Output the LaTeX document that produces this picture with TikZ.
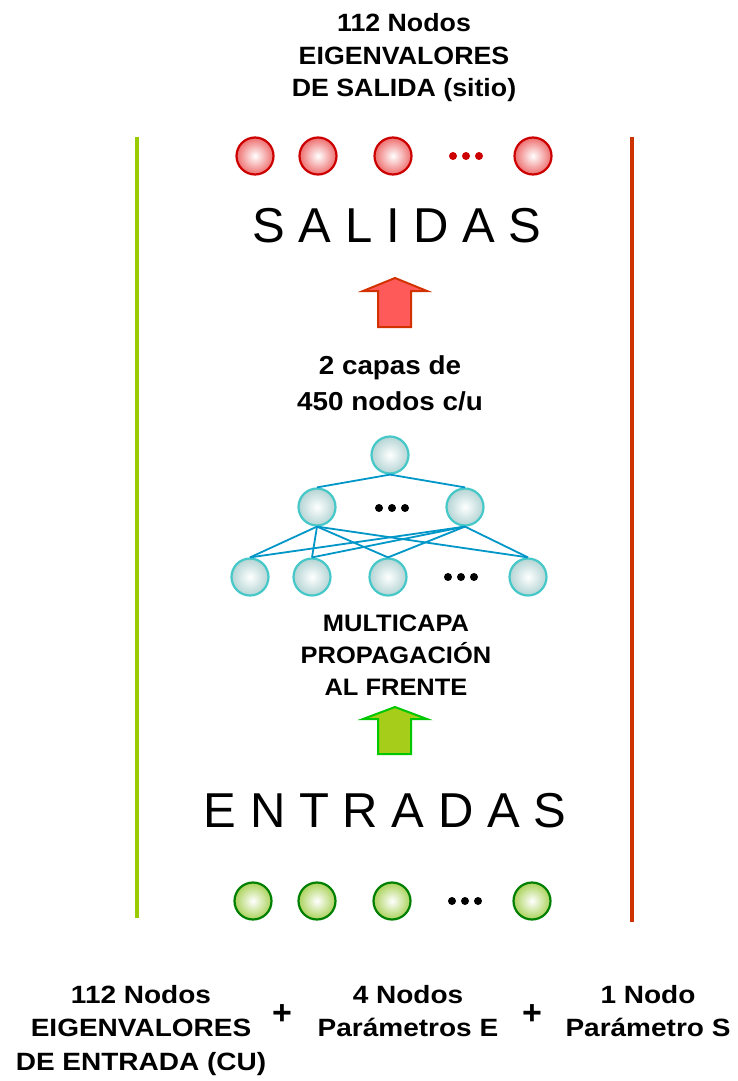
\documentclass[tikz,border=0pt]{standalone}
\usepackage{fontspec}
\setmainfont{Liberation Sans}
\newfontfamily\lblfont{Liberation Sans}[FakeStretch=1.07]
\newfontfamily\widefont{Liberation Sans}[FakeStretch=1.12]
\definecolor{redline}{RGB}{204,51,0}
\definecolor{greenline}{RGB}{153,204,0}
\definecolor{redring}{RGB}{204,0,0}
\definecolor{redfill}{RGB}{238,110,110}
\definecolor{greenring}{RGB}{0,128,0}
\definecolor{greenfill}{RGB}{170,210,90}
\definecolor{cyanring}{RGB}{70,200,200}
\definecolor{cyanfill}{RGB}{180,212,212}
\definecolor{netline}{RGB}{0,150,200}
\definecolor{arrowred}{RGB}{255,90,90}
\definecolor{arrowredborder}{RGB}{210,50,0}
\definecolor{arrowgreen}{RGB}{165,205,25}
\definecolor{arrowgreenborder}{RGB}{0,200,0}
\begin{document}
\begin{tikzpicture}[x=1pt,y=-1pt,
  lbl/.style={font=\lblfont\bfseries\fontsize{25}{32.5}\selectfont, align=center, inner sep=0pt, anchor=base},
  wlbl/.style={lbl, font=\widefont\bfseries\fontsize{25}{33.5}\selectfont},
  big/.style={font=\fontsize{49}{55}\selectfont, inner sep=0pt, anchor=base},
  ball/.style={circle, minimum size=37pt, inner sep=0pt, line width=2.2pt},
  outball/.style={ball, draw=redring, shading=radial, inner color=white, outer color=redfill},
  inball/.style={ball, draw=greenring, shading=radial, inner color=white, outer color=greenfill},
  netball/.style={ball, draw=cyanring, shading=radial, inner color=white, outer color=cyanfill},
  edge/.style={draw=netline, line width=1.8pt},
  dot/.style={circle, fill=#1, minimum size=8pt, inner sep=0pt},
  vline/.style={line width=4pt},
  fatarrow/.style={line width=2pt, line join=miter}
]
\useasboundingbox (0,0) rectangle (737,1081);

% side lines
\coordinate (gtop) at (137,137);
\coordinate (gbot) at (137,918);
\coordinate (rtop) at (632,137);
\coordinate (rbot) at (632,922);
\draw[vline, greenline] (gtop) -- (gbot);
\draw[vline, redline] (rtop) -- (rbot);

% top label
\node[lbl] (toplbl) at (404,96.7) {112 Nodos\\EIGENVALORES\\DE SALIDA (sitio)};

% output nodes
\node[outball] (o1) at (255,156) {};
\node[outball] (o2) at (318,156) {};
\node[outball] (o3) at (393,156) {};
\node[dot=redring] (od1) at (453,156) {};
\node[dot=redring] (od2) at (466,156) {};
\node[dot=redring] (od3) at (479,156) {};
\node[outball] (o4) at (533,156) {};

\node[big] (salidas) at (397,242.7) {S A L I D A S};

% red arrow
\draw[fatarrow, draw=arrowredborder, fill=arrowred]
  (395,278) -- (427,291) -- (411,291) -- (411,327) -- (378,327) -- (378,291) -- (363,291) -- cycle;

\node[lbl, font=\lblfont\bfseries\fontsize{26}{36}\selectfont] (capas) at (390,410) {2 capas de\\450 nodos c/u};

% network
\node[netball] (t) at (390,455) {};
\node[netball] (m1) at (317,507) {};
\node[netball] (m2) at (465,507) {};
\node[dot=black] (md1) at (379,508) {};
\node[dot=black] (md2) at (392,508) {};
\node[dot=black] (md3) at (405,508) {};
\node[netball] (b1) at (250,577) {};
\node[netball] (b2) at (312,577) {};
\node[netball] (b3) at (388,577) {};
\node[dot=black] (bd1) at (448,577) {};
\node[dot=black] (bd2) at (461,577) {};
\node[dot=black] (bd3) at (474,577) {};
\node[netball] (b4) at (528,577) {};

\draw[edge] (t.south) -- (m1.north);
\draw[edge] (t.south) -- (m2.north);
\foreach \m in {m1,m2}{
  \foreach \b in {b1,b2,b3,b4}{
    \draw[edge] (\m.south) -- (\b.north);
  }
}

\node[lbl, font=\lblfont\bfseries\fontsize{23.8}{31.7}\selectfont] (multi) at (396,695) {MULTICAPA\\PROPAGACIÓN\\AL FRENTE};

% green arrow
\draw[fatarrow, draw=arrowgreenborder, fill=arrowgreen]
  (395,707) -- (427,719) -- (411,719) -- (411,754) -- (378,754) -- (378,719) -- (363,719) -- cycle;

\node[big] (entradas) at (385,827.7) {E N T R A D A S};

% input nodes
\node[inball] (i1) at (253,901) {};
\node[inball] (i2) at (317,901) {};
\node[inball] (i3) at (392,901) {};
\node[dot=black] (id1) at (452,901) {};
\node[dot=black] (id2) at (465,901) {};
\node[dot=black] (id3) at (478,901) {};
\node[inball] (i4) at (532,901) {};

% bottom labels
\node[wlbl] (inlbl) at (141,1070) {112 Nodos\\EIGENVALORES\\DE ENTRADA (CU)};
\node[lbl, font=\bfseries\fontsize{34}{34}\selectfont] (plus1) at (282,1024) {+};
\node[wlbl] (elbl) at (408,1036.5) {4 Nodos\\Parámetros E};
\node[lbl, font=\bfseries\fontsize{34}{34}\selectfont] (plus2) at (532,1024) {+};
\node[wlbl] (slbl) at (648,1036.5) {1 Nodo\\Parámetro S};
\end{tikzpicture}
\end{document}
